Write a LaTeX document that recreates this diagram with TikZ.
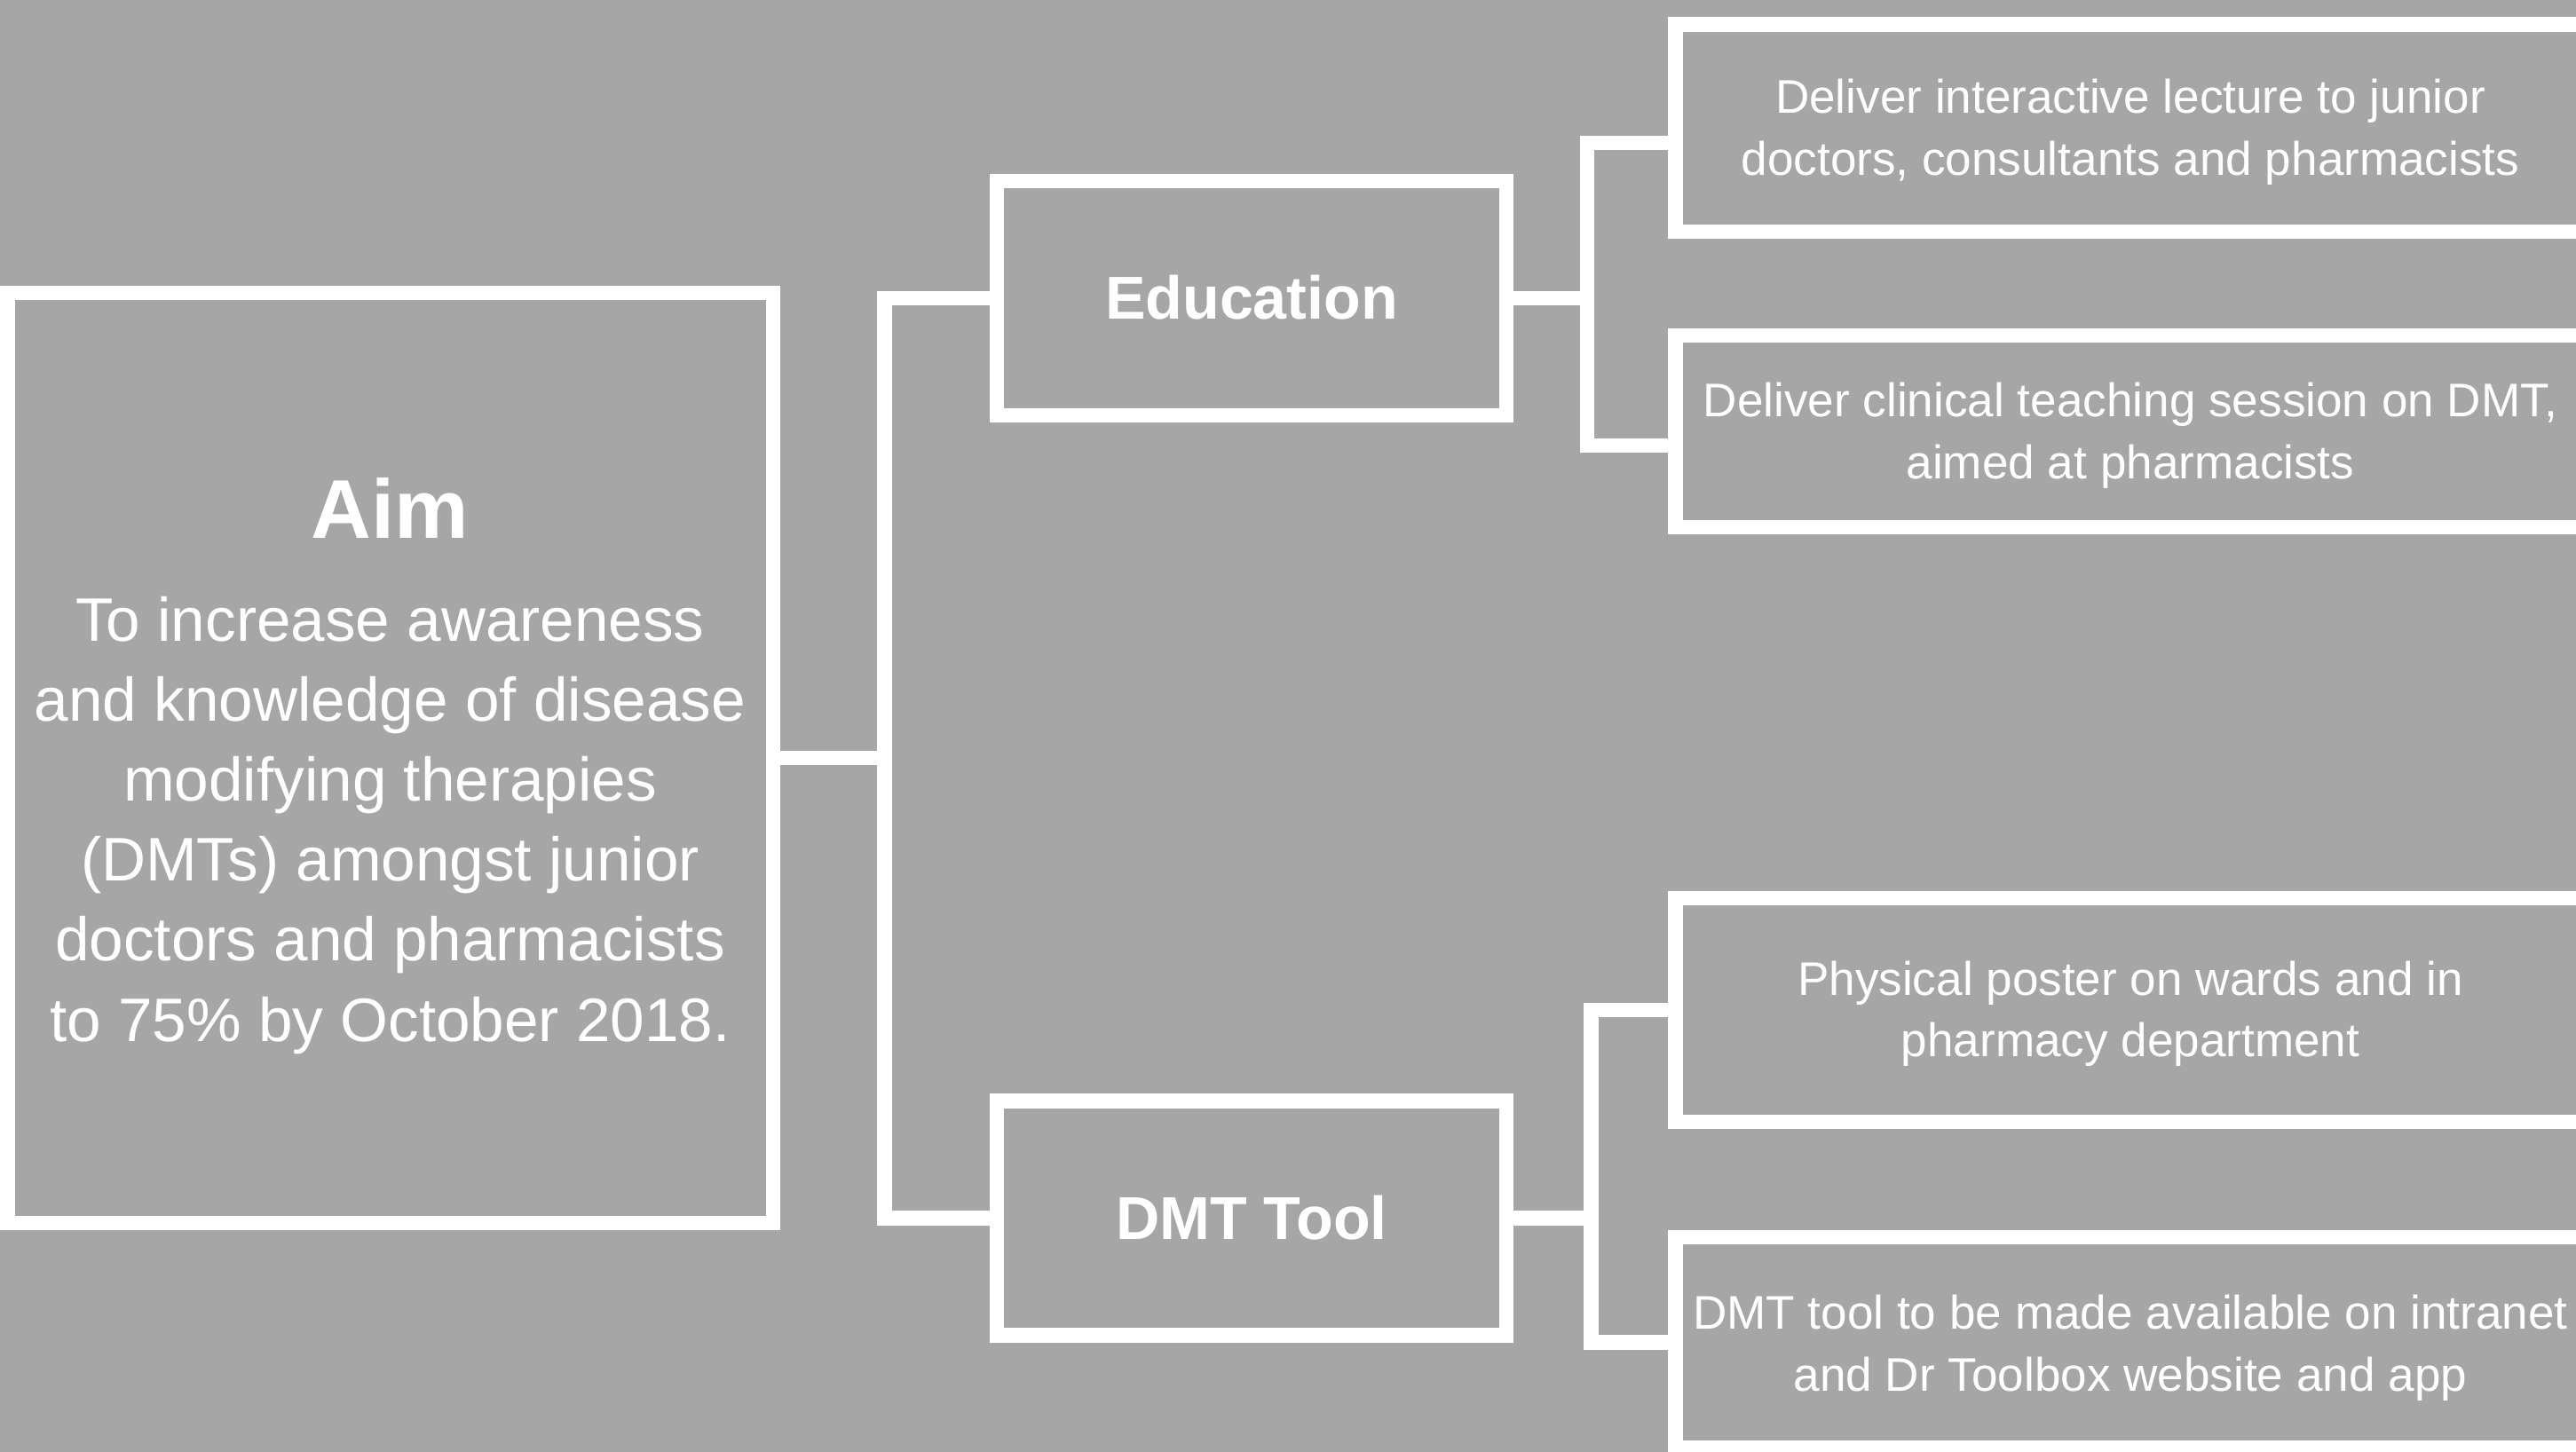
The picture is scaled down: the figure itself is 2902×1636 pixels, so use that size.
\documentclass[tikz,border=0pt]{standalone}
\usepackage{fontspec}
\setmainfont{Liberation Sans}
\definecolor{bg}{HTML}{A6A6A6}
\begin{document}
\begin{tikzpicture}[x=0.01cm,y=-0.01cm,
  boxstyle/.style={draw=white, line width=0.165cm, rectangle, inner sep=0pt, outer sep=0pt},
  conn/.style={draw=white, line width=0.165cm, line join=miter},
  txt/.style={text=white, inner sep=0pt, align=center, anchor=base},
  smalltxt/.style={txt, font=\fontsize{15.1}{19.7}\selectfont},
  headtxt/.style={txt, font=\fontsize{19.4}{23}\selectfont\bfseries},
]
\fill[bg] (0,0) rectangle (2902,1636);
\useasboundingbox (0,0) rectangle (2902,1636);
\clip (0,0) rectangle (2902,1636);

% boxes
\node[boxstyle, minimum width=8.62cm, minimum height=10.47cm] (aim) at (439.5,854) {};
\node[boxstyle, minimum width=5.74cm, minimum height=2.64cm] (edu) at (1410,336) {};
\node[boxstyle, minimum width=5.74cm, minimum height=2.64cm] (dmt) at (1410,1372.5) {};
\node[boxstyle, minimum width=10.24cm, minimum height=2.332cm] (e1) at (2400,144.4) {};
\node[boxstyle, minimum width=10.24cm, minimum height=2.16cm] (e2) at (2400,486) {};
\node[boxstyle, minimum width=10.24cm, minimum height=2.52cm] (d1) at (2400,1138) {};
\node[boxstyle, minimum width=10.24cm, minimum height=2.37cm] (d2) at (2400,1512.5) {};

% texts (base anchor = baseline of the last line)
\node[txt, font=\fontsize{26.7}{32}\selectfont\bfseries] (aimtitle) at (439.5,606) {Aim};
\node[txt, font=\fontsize{19.7}{25.6}\selectfont] (aimbody) at (439.5,1173) {To increase awareness\\and knowledge of disease\\modifying therapies\\(DMTs) amongst junior\\doctors and pharmacists\\to 75\% by October 2018.};
\node[headtxt] (edutxt) at (1410,359) {Education};
\node[headtxt] (dmttxt) at (1410,1396) {DMT Tool};
\node[smalltxt] (e1txt) at (2400,197) {Deliver interactive lecture to junior\\doctors, consultants and pharmacists};
\node[smalltxt] (e2txt) at (2400,539) {Deliver clinical teaching session on DMT,\\aimed at pharmacists};
\node[smalltxt] (d1txt) at (2400,1190.6) {Physical poster on wards and in\\pharmacy department};
\node[smalltxt] (d2txt) at (2400,1567) {DMT tool to be made available on intranet\\and Dr Toolbox website and app};

% connectors
\coordinate (spineE) at (996.7,336);
\coordinate (spineD) at (996.7,1372.5);
\coordinate (spineA) at (996.7,854);
\draw[conn] (edu.west) -- (spineE) -- (spineD) -- (dmt.west);
\draw[conn] (aim.east) -- (spineA);

\coordinate (ej) at (1788,336);
\draw[conn] ([yshift=-0.166cm]e1.west) -| (ej) |- ([yshift=-0.16cm]e2.west);
\draw[conn] (edu.east) -- (ej);

\coordinate (dj) at (1792.7,1372.5);
\draw[conn] (d1.west) -| (dj) |- (d2.west);
\draw[conn] (dmt.east) -- (dj);
\end{tikzpicture}
\end{document}
